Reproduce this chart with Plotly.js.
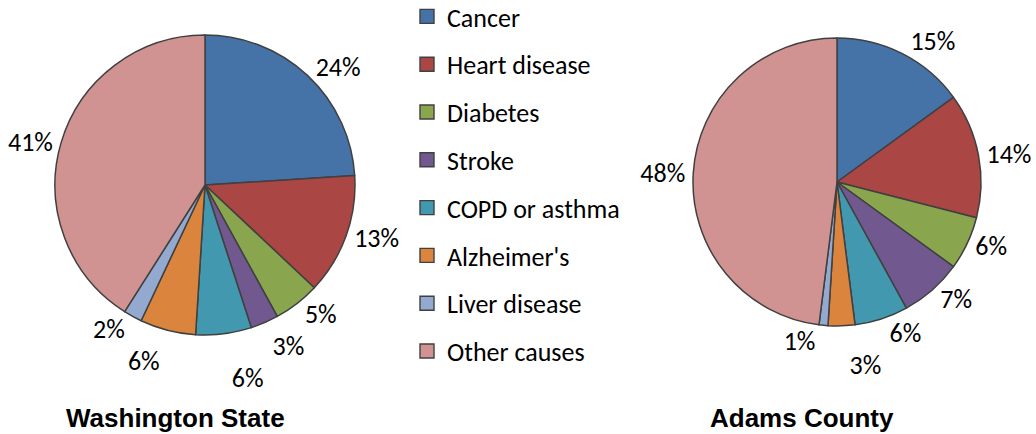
<!DOCTYPE html>
<html>
<head>
<meta charset="utf-8">
<script src="https://cdn.plot.ly/plotly-3.0.1.min.js"></script>
<style>html,body{margin:0;padding:0;background:#fff}#chart{width:1036px;height:434px}
#chart path.textline{display:none}</style>
</head>
<body>
<div id="chart"></div>
<script>
const categories = ["Cancer", "Heart disease", "Diabetes", "Stroke", "COPD or asthma", "Alzheimer's", "Liver disease", "Other causes"];
const washingtonState = [24, 13, 5, 3, 6, 6, 2, 41];
const adamsCounty = [15, 14, 6, 7, 6, 3, 1, 48];
const pieTitles = ["Washington State", "Adams County"];
const colors = ["#4572A7", "#AA4643", "#89A54E", "#71588F", "#4198AF", "#DB843D", "#93A9CF", "#D19392"];

const W = 1036, H = 434;
const labelFont = {family: "Carlito, Lato, 'Open Sans', sans-serif", size: 26, color: "#000"};

function pieTrace(values, cx, cy, r) {
  return {
    type: "pie",
    labels: categories,
    values: values,
    sort: false,
    direction: "clockwise",
    rotation: 0,
    marker: {colors: colors, line: {color: "#404040", width: 1.5}},
    textposition: "outside",
    texttemplate: "%{value}%",
    textfont: labelFont,
    outsidetextfont: labelFont,
    showlegend: false,
    hoverinfo: "label+percent",
    domain: {x: [(cx - r) / W, (cx + r) / W], y: [(H - cy - r) / H, (H - cy + r) / H]}
  };
}

const traces = [
  pieTrace(washingtonState, 205, 185, 150),
  pieTrace(adamsCounty, 837, 182, 144)
];

categories.forEach((c, i) => {
  traces.push({
    type: "scatter",
    mode: "markers",
    x: [null], y: [null],
    name: c,
    legendgroup: "g" + i,
    showlegend: true,
    marker: {symbol: "square", size: 14, color: colors[i], line: {color: "#404040", width: 1.4}},
    hoverinfo: "skip"
  });
});

const layout = {
  width: W, height: H,
  margin: {l: 0, r: 0, t: 0, b: 0, autoexpand: false},
  paper_bgcolor: "#fff",
  plot_bgcolor: "rgba(0,0,0,0)",
  xaxis: {visible: false},
  yaxis: {visible: false},
  showlegend: true,
  legend: {
    x: 407 / W, y: (H + 7) / H, xanchor: "left", yanchor: "top",
    maxheight: 440,
    traceorder: "grouped",
    tracegroupgap: 11,
    font: labelFont,
    bgcolor: "rgba(0,0,0,0)"
  },
  annotations: pieTitles.map((t, i) => ({
    text: "<b>" + t + "</b>",
    x: [175, 802][i] / W, y: (H - 418) / H,
    xref: "paper", yref: "paper",
    xanchor: "center", yanchor: "middle",
    showarrow: false,
    font: {family: "Arial, 'Liberation Sans', sans-serif", size: 26, color: "#000"}
  }))
};

Plotly.newPlot("chart", traces, layout, {displayModeBar: false, staticPlot: true});
</script>
</body>
</html>
